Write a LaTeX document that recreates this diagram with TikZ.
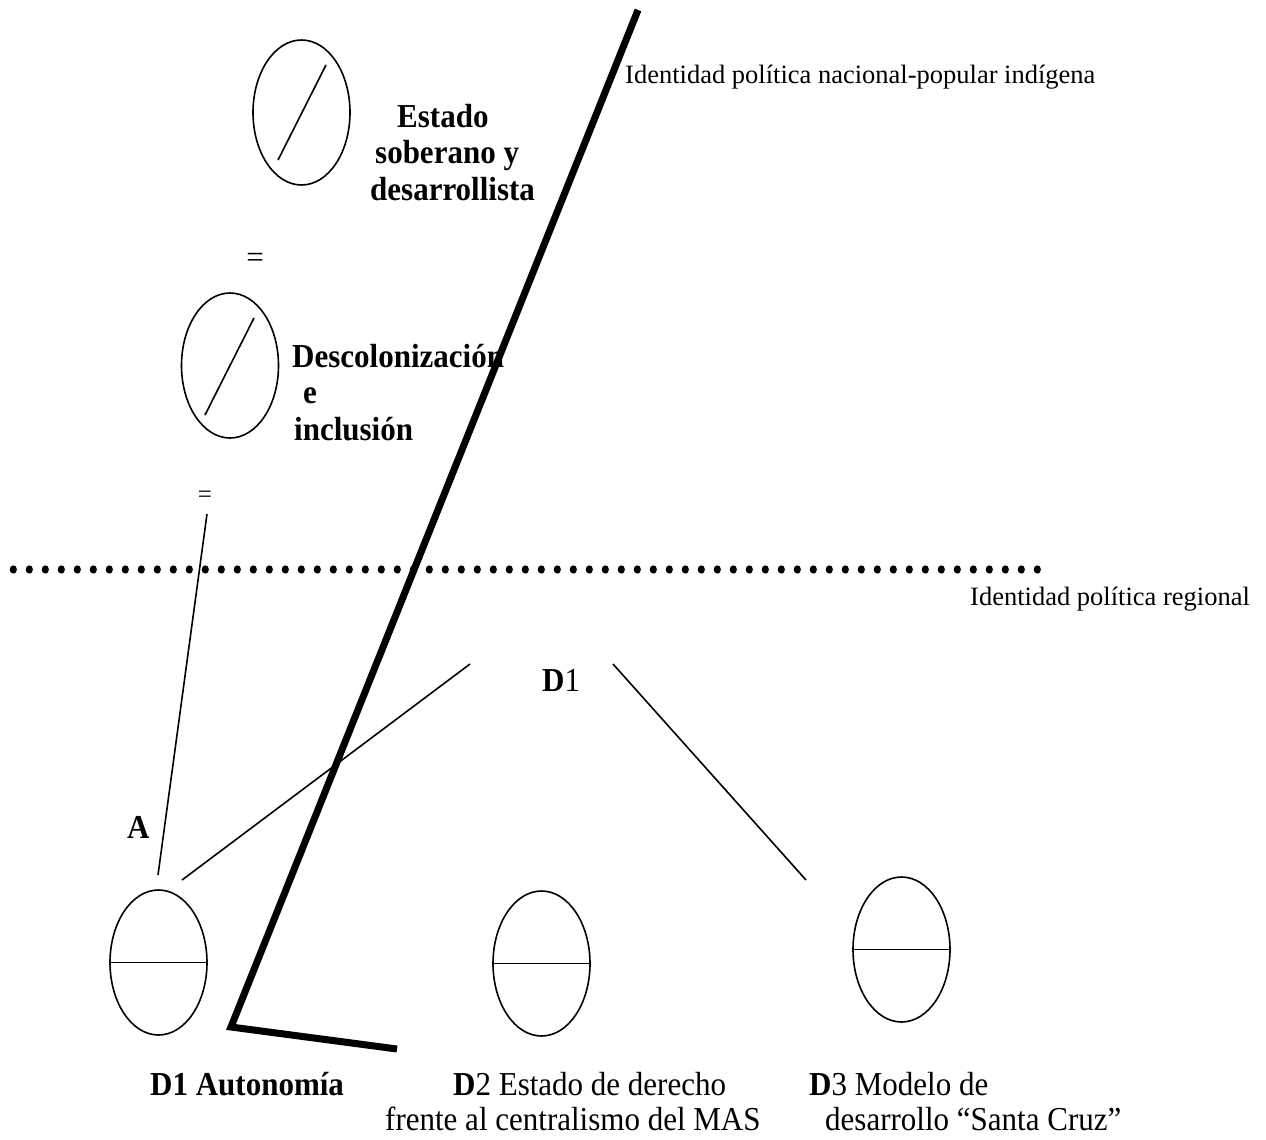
\documentclass[tikz,border=0pt]{standalone}
\usepackage{fontspec}
\setmainfont{Liberation Serif}
\usetikzlibrary{shapes.geometric}
% slightly taller lettering for the large labels
\newcommand\tallbox[1]{\scalebox{1}[1.08]{#1}}
\begin{document}
\begin{tikzpicture}[x=1pt,y=-1pt,
  oval/.style={draw, ellipse, line width=1.6pt, minimum width=97pt, minimum height=145pt, inner sep=0pt, outer sep=0pt},
  thin/.style={line width=1.6pt},
  bar/.style={line width=7pt, line join=miter},
  big/.style={font=\fontsize{31}{37}\selectfont, inner sep=0pt, anchor=base west},
  bigb/.style={font=\fontsize{31}{37}\selectfont\bfseries, inner sep=0pt, anchor=base west},
  small/.style={font=\fontsize{26.5}{32}\selectfont, inner sep=0pt, anchor=base west},
  eqsign/.style={inner sep=0pt, anchor=base}
]
\useasboundingbox (0,0) rectangle (1266,1140);

% upper ovals with a slash
\node[oval] (e1) at (301.5,112.5) {};
\draw[thin] ([shift={(24.5,-47.5)}]e1.center) -- ([shift={(-23.5,47.5)}]e1.center);
\node[oval] (e2) at (230,365.5) {};
\draw[thin] ([shift={(24,-47.5)}]e2.center) -- ([shift={(-25,49.5)}]e2.center);

% upper labels
\node[bigb] (est1) at (397,127) {\tallbox{Estado}};
\node[bigb] (est2) at (375,163) {\tallbox{soberano y}};
\node[bigb] (est3) at (370,200) {\tallbox{desarrollista}};
\node[bigb] (des1) at (292,367) {\tallbox{Descolonización}};
\node[bigb] (des2) at (303,403) {\tallbox{e}};
\node[bigb] (des3) at (294,440) {\tallbox{inclusión}};
\node[eqsign, font=\fontsize{31}{37}\selectfont] (eq1) at (255,267) {=};
\node[eqsign, font=\fontsize{25}{30}\selectfont] (eq2) at (205,502) {=};

% identity labels
\node[small] (tnac) at (625,83) {Identidad política nacional-popular indígena};
\node[small] (treg) at (970,605) {Identidad política regional};

% dotted border
\foreach \i in {0,...,64} \fill (13.3+16*\i,569.5) ellipse [x radius=3.6pt, y radius=4.2pt];

% lower ovals split horizontally
\node[oval] (b1) at (158.5,962.5) {};
\draw[thin] (b1.west) -- (b1.east);
\node[oval] (b2) at (541.5,963.5) {};
\draw[thin] (b2.west) -- (b2.east);
\node[oval] (b3) at (901.5,949.5) {};
\draw[thin] (b3.west) -- (b3.east);

% D1 hub and A
\node[big] (d1) at (542,691) {\tallbox{\textbf{D}1}};
\node[bigb] (A) at (127,838) {\tallbox{A}};

% connectors
\coordinate (eqfoot) at (207,514);
\coordinate (atop) at (158,875);
\coordinate (d1left) at (470,664);
\coordinate (b1top) at (182,880);
\coordinate (d1right) at (613,664);
\coordinate (b3top) at (806,880);
\draw[thin] (eqfoot) -- (atop);
\draw[thin] (d1left) -- (b1top);
\draw[thin] (d1right) -- (b3top);

% heavy angled bar
\coordinate (bartop) at (638,10);
\coordinate (barcorner) at (231,1027);
\coordinate (barend) at (397,1049);
\draw[bar] (bartop) -- (barcorner) -- (barend);

% lower labels
\node[bigb] (lab1) at (150,1095) {\tallbox{D1 Autonomía}};
\node[big] (lab2a) at (453,1095) {\tallbox{\textbf{D}2 Estado de derecho}};
\node[big] (lab2b) at (385,1130) {\tallbox{frente al centralismo del MAS}};
\node[big] (lab3a) at (809,1095) {\tallbox{\textbf{D}3 Modelo de}};
\node[big] (lab3b) at (825,1130) {\tallbox{desarrollo “Santa Cruz”}};
\end{tikzpicture}
\end{document}
